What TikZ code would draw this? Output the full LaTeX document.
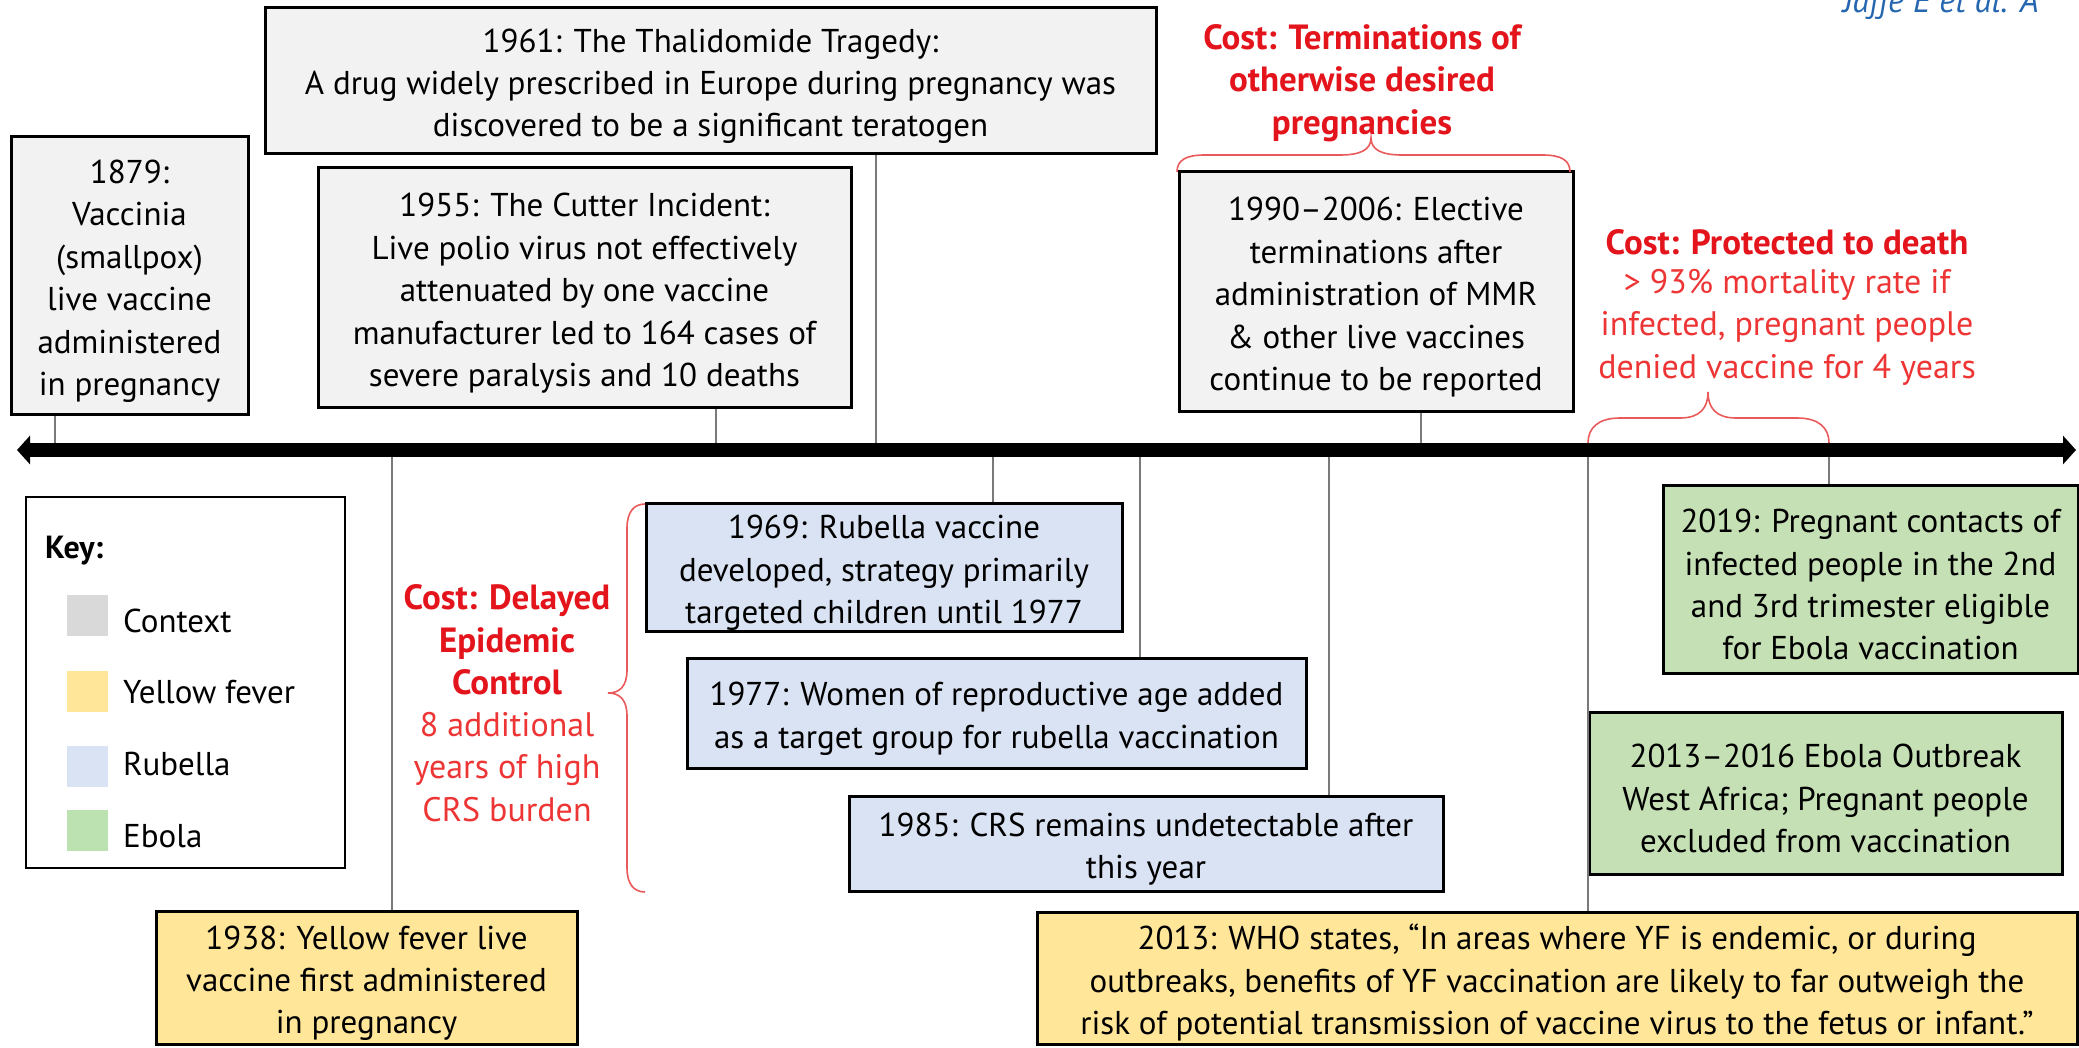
\documentclass[tikz,border=0pt]{standalone}
\usepackage{fontspec}
\setmainfont{PT Sans}
\usetikzlibrary{arrows.meta}
\definecolor{ctxfill}{HTML}{F2F2F2}
\definecolor{ctxkey}{HTML}{D9D9D9}
\definecolor{yfill}{HTML}{FFE699}
\definecolor{bfill}{HTML}{DAE3F3}
\definecolor{gfill}{HTML}{C5E0B4}
\definecolor{gkey}{HTML}{BCE2B2}
\definecolor{costred}{HTML}{E3141B}
\definecolor{txtred}{HTML}{EE3535}
\definecolor{bracered}{HTML}{EB5A5A}
\definecolor{connc}{HTML}{7A7A7A}
\definecolor{citeblue}{HTML}{2466B0}
\newcommand\bxstrut{\rule{0pt}{35pt}}
\begin{document}
\begin{tikzpicture}[x=1pt,y=-1pt,
  box/.style={draw=black, line width=3pt, inner sep=0pt, align=center,
    font=\fontsize{33}{42.4}\selectfont},
  conn/.style={draw=connc, line width=1.6pt},
  costbold/.style={text=costred, align=center, inner sep=0pt,
    font=\fontsize{35}{42.6}\selectfont\bfseries},
  costtxt/.style={text=txtred, align=center, inner sep=0pt,
    font=\fontsize{34}{42.6}\selectfont},
  bracestyle/.style={draw=bracered, line width=1.6pt},
  swatch/.style={inner sep=0pt, minimum width=41pt, minimum height=41pt},
  keylabel/.style={anchor=base west, inner sep=0pt, font=\fontsize{33}{40}\selectfont}]
\clip (0,0) rectangle (2079,1048);
\fill[white] (0,0) rectangle (2079,1048);

% citation (cropped at top, as in the reference)
\node[anchor=base west, inner sep=0pt, text=citeblue, font=\fontsize{34}{40}\selectfont\itshape] (cite) at (1843,13) {Jaffe E et al. A};

% axis coordinates
\coordinate (axL) at (17,450);
\coordinate (axR) at (2076,450);
\coordinate (t1879) at (55,450);
\coordinate (t1938) at (392,450);
\coordinate (t1955) at (716,450);
\coordinate (t1961) at (876,450);
\coordinate (t1969) at (993,450);
\coordinate (t1977) at (1140,450);
\coordinate (t1985) at (1329,450);
\coordinate (t1990) at (1421,450);
\coordinate (t2013) at (1588,450);
\coordinate (t2019) at (1829,450);

% boxes above axis
\node[box, fill=ctxfill, minimum width=237pt, minimum height=277pt] (b1879) at (129.5,275.5)
  {\bxstrut 1879:\\Vaccinia\\(smallpox)\\live vaccine\\administered\\in pregnancy};
\node[box, fill=ctxfill, minimum width=891pt, minimum height=146pt] (b1961) at (710.5,80.5)
  {\bxstrut 1961: The Thalidomide Tragedy:\\A drug widely prescribed in Europe during pregnancy was\\discovered to be a significant teratogen};
\node[box, fill=ctxfill, minimum width=533pt, minimum height=239pt] (b1955) at (584.5,287.5)
  {\bxstrut 1955: The Cutter Incident:\\Live polio virus not effectively\\attenuated by one vaccine\\manufacturer led to 164 cases of\\severe paralysis and 10 deaths};
\node[box, fill=ctxfill, minimum width=394pt, minimum height=239pt] (b1990) at (1376,291.5)
  {\bxstrut 1990–2006: Elective\\terminations after\\administration of MMR\\\& other live vaccines\\continue to be reported};

% boxes below axis
\node[box, fill=bfill, minimum width=476pt, minimum height=128pt] (b1969) at (884,567)
  {\bxstrut 1969: Rubella vaccine\\developed, strategy primarily\\targeted children until 1977};
\node[box, fill=bfill, minimum width=619pt, minimum height=110pt] (b1977) at (996.5,713)
  {\bxstrut 1977: Women of reproductive age added\\as a target group for rubella vaccination};
\node[box, fill=bfill, minimum width=594pt, minimum height=95pt] (b1985) at (1146,843.5)
  {\bxstrut 1985: CRS remains undetectable after\\this year};
\node[box, fill=gfill, minimum width=415pt, minimum height=188pt] (b2019) at (1870.5,579)
  {\bxstrut 2019: Pregnant contacts of\\infected people in the 2nd\\and 3rd trimester eligible\\for Ebola vaccination};
\node[box, fill=gfill, minimum width=473pt, minimum height=162pt] (b2013e) at (1825.5,793)
  {\bxstrut 2013–2016 Ebola Outbreak\\West Africa; Pregnant people\\excluded from vaccination};
\node[box, fill=yfill, minimum width=421pt, minimum height=133pt] (b1938) at (366.5,977.5)
  {\bxstrut 1938: Yellow fever live\\vaccine first administered\\in pregnancy};
\node[box, fill=yfill, minimum width=1040pt, minimum height=132pt] (b2013) at (1557,978)
  {\bxstrut 2013: WHO states, “In areas where YF is endemic, or during\\outbreaks, benefits of YF vaccination are likely to far outweigh the\\risk of potential transmission of vaccine virus to the fetus or infant.”};

% key
\node[draw=black, line width=2pt, inner sep=0pt, minimum width=319pt, minimum height=371pt] (key) at (185.5,682.5) {};
\node[anchor=base west, inner sep=0pt, font=\fontsize{32}{38}\selectfont\bfseries] (keyt) at (45,558) {Key:};
\node[swatch, fill=ctxkey] (kc) at (87,615) {};
\node[swatch, fill=yfill] (ky) at (87,691) {};
\node[swatch, fill=bfill] (kr) at (87,766) {};
\node[swatch, fill=gkey] (ke) at (87,830) {};
\node[keylabel] (kcl) at (123,632) {Context};
\node[keylabel] (kyl) at (123,703) {Yellow fever};
\node[keylabel] (krl) at (123,775) {Rubella};
\node[keylabel] (kel) at (123,847) {Ebola};

% connectors
\draw[conn] (b1879.south -| t1879) -- (t1879);
\draw[conn] (b1955.south -| t1955) -- (t1955);
\draw[conn] (b1961.south -| t1961) -- (t1961);
\draw[conn] (b1990.south -| t1990) -- (t1990);
\draw[conn] (t1938) -- (b1938.north -| t1938);
\draw[conn] (t1969) -- (b1969.north -| t1969);
\draw[conn] (t1977) -- (b1977.north -| t1977);
\draw[conn] (t1985) -- (b1985.north -| t1985);
\draw[conn] (t2013) -- (b2013.north -| t2013);
\draw[conn] (t2019) -- (b2019.north -| t2019);

% axis
\draw[line width=14pt, {Triangle[length=13pt,width=28pt]}-{Triangle[length=13pt,width=28pt]}] (axL) -- (axR);

% braces
\draw[bracestyle] (1177,172) .. controls (1177,160) and (1186,155) .. (1205,155) -- (1340,155)
  .. controls (1360,155) and (1371,150) .. (1371,138)
  .. controls (1371,150) and (1382,155) .. (1402,155) -- (1542,155)
  .. controls (1561,155) and (1570,160) .. (1570,172);
\draw[bracestyle] (1588,443) .. controls (1588,428) and (1598,418) .. (1620,418) -- (1680,418)
  .. controls (1700,418) and (1708,408) .. (1708,392)
  .. controls (1708,408) and (1716,418) .. (1736,418) -- (1797,418)
  .. controls (1819,418) and (1829,428) .. (1829,443);
\draw[bracestyle] (645,504) .. controls (634,504) and (627,512) .. (627,528) -- (627,670)
  .. controls (627,686) and (620,693) .. (608,693)
  .. controls (620,693) and (627,700) .. (627,716) -- (627,868)
  .. controls (627,884) and (634,892) .. (645,892);

% cost labels
\node[costbold] (costT) at (1362,83) {Cost: Terminations of\\otherwise desired\\pregnancies};
\node[costbold] (costP) at (1787,242) {Cost: Protected to death};
\node[costtxt] (costPt) at (1787,327) {> 93\% mortality rate if\\infected, pregnant people\\denied vaccine for 4 years};
\node[costbold] (costD) at (507,640) {Cost: Delayed\\Epidemic\\Control};
\node[costtxt] (costDt) at (507,767) {8 additional\\years of high\\CRS burden};
\end{tikzpicture}
\end{document}
